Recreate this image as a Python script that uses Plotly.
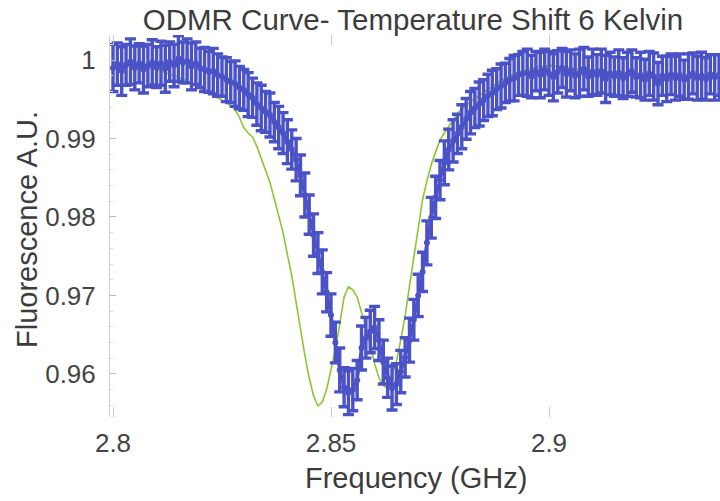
import plotly.graph_objects as go

# Microwave frequency scan (GHz), 1 MHz steps
freq_ghz = [
    2.800, 2.801, 2.802, 2.803, 2.804, 2.805, 2.806, 2.807, 2.808, 2.809,
    2.810, 2.811, 2.812, 2.813, 2.814, 2.815, 2.816, 2.817, 2.818, 2.819,
    2.820, 2.821, 2.822, 2.823, 2.824, 2.825, 2.826, 2.827, 2.828, 2.829,
    2.830, 2.831, 2.832, 2.833, 2.834, 2.835, 2.836, 2.837, 2.838, 2.839,
    2.840, 2.841, 2.842, 2.843, 2.844, 2.845, 2.846, 2.847, 2.848, 2.849,
    2.850, 2.851, 2.852, 2.853, 2.854, 2.855, 2.856, 2.857, 2.858, 2.859,
    2.860, 2.861, 2.862, 2.863, 2.864, 2.865, 2.866, 2.867, 2.868, 2.869,
    2.870, 2.871, 2.872, 2.873, 2.874, 2.875, 2.876, 2.877, 2.878, 2.879,
    2.880, 2.881, 2.882, 2.883, 2.884, 2.885, 2.886, 2.887, 2.888, 2.889,
    2.890, 2.891, 2.892, 2.893, 2.894, 2.895, 2.896, 2.897, 2.898, 2.899,
    2.900, 2.901, 2.902, 2.903, 2.904, 2.905, 2.906, 2.907, 2.908, 2.909,
    2.910, 2.911, 2.912, 2.913, 2.914, 2.915, 2.916, 2.917, 2.918, 2.919,
    2.920, 2.921, 2.922, 2.923, 2.924, 2.925, 2.926, 2.927, 2.928, 2.929,
    2.930, 2.931, 2.932, 2.933, 2.934, 2.935, 2.936, 2.937, 2.938, 2.939,
    2.940,
]

# Measured normalised fluorescence
fluorescence = [
    0.9990, 0.9995, 0.9986, 0.9994, 0.9998, 0.9990, 0.9996, 0.9988, 0.9993, 0.9997,
    0.9991, 0.9996, 0.9989, 0.9998, 0.9993, 1.0002, 0.9997, 0.9999, 0.9992, 0.9996,
    0.9990, 0.9988, 0.9985, 0.9986, 0.9981, 0.9979, 0.9975, 0.9972, 0.9970, 0.9965,
    0.9962, 0.9956, 0.9952, 0.9944, 0.9939, 0.9934, 0.9930, 0.9921, 0.9914, 0.9907,
    0.9896, 0.9886, 0.9873, 0.9853, 0.9828, 0.9803, 0.9777, 0.9754, 0.9730, 0.9704,
    0.9675, 0.9640, 0.9605, 0.9583, 0.9576, 0.9580, 0.9592, 0.9633, 0.9646, 0.9654,
    0.9659, 0.9643, 0.9615, 0.9595, 0.9582, 0.9587, 0.9603, 0.9621, 0.9643, 0.9669,
    0.9700, 0.9730, 0.9767, 0.9799, 0.9825, 0.9847, 0.9869, 0.9886, 0.9897, 0.9906,
    0.9915, 0.9925, 0.9933, 0.9939, 0.9944, 0.9949, 0.9955, 0.9958, 0.9963, 0.9967,
    0.9971, 0.9975, 0.9977, 0.9981, 0.9983, 0.9984, 0.9979, 0.9986, 0.9981, 0.9988,
    0.9983, 0.9978, 0.9985, 0.9990, 0.9982, 0.9987, 0.9980, 0.9984, 0.9989, 0.9979,
    0.9985, 0.9981, 0.9986, 0.9976, 0.9983, 0.9979, 0.9984, 0.9977, 0.9982, 0.9986,
    0.9978, 0.9981, 0.9975, 0.9983, 0.9979, 0.9970, 0.9980, 0.9976, 0.9982, 0.9977,
    0.9981, 0.9975, 0.9979, 0.9983, 0.9977, 0.9980, 0.9976, 0.9982, 0.9978, 0.9981,
    0.9979,
]

# One-sigma uncertainty of each measured point
fluorescence_err = [
    0.0030, 0.0027, 0.0031, 0.0026, 0.0029, 0.0028, 0.0025, 0.0030, 0.0027, 0.0029,
    0.0026, 0.0028, 0.0030, 0.0025, 0.0027, 0.0029, 0.0026, 0.0028, 0.0030, 0.0027,
    0.0025, 0.0028, 0.0026, 0.0029, 0.0027, 0.0025, 0.0028, 0.0026, 0.0029, 0.0027,
    0.0026, 0.0028, 0.0025, 0.0027, 0.0029, 0.0026, 0.0028, 0.0025, 0.0027, 0.0026,
    0.0028, 0.0025, 0.0027, 0.0026, 0.0028, 0.0025, 0.0027, 0.0026, 0.0028, 0.0025,
    0.0027, 0.0026, 0.0028, 0.0025, 0.0028, 0.0027, 0.0025, 0.0028, 0.0026, 0.0027,
    0.0027, 0.0026, 0.0028, 0.0025, 0.0028, 0.0026, 0.0027, 0.0025, 0.0028, 0.0026,
    0.0027, 0.0025, 0.0028, 0.0026, 0.0027, 0.0025, 0.0028, 0.0026, 0.0027, 0.0025,
    0.0028, 0.0026, 0.0027, 0.0025, 0.0028, 0.0026, 0.0027, 0.0029, 0.0026, 0.0028,
    0.0025, 0.0027, 0.0029, 0.0026, 0.0028, 0.0030, 0.0027, 0.0025, 0.0029, 0.0026,
    0.0028, 0.0030, 0.0027, 0.0025, 0.0029, 0.0026, 0.0028, 0.0030, 0.0027, 0.0025,
    0.0029, 0.0026, 0.0028, 0.0030, 0.0027, 0.0025, 0.0029, 0.0026, 0.0028, 0.0027,
    0.0025, 0.0029, 0.0026, 0.0028, 0.0030, 0.0027, 0.0025, 0.0029, 0.0026, 0.0028,
    0.0027, 0.0025, 0.0029, 0.0026, 0.0028, 0.0030, 0.0027, 0.0025, 0.0029, 0.0026,
    0.0028,
]

# Reference curve for the 6 K temperature shift
shifted_curve = [
    0.9997, 0.9996, 0.9996, 0.9995, 0.9995, 0.9994, 0.9993, 0.9992, 0.9990, 0.9989,
    0.9988, 0.9986, 0.9984, 0.9983, 0.9980, 0.9978, 0.9976, 0.9973, 0.9970, 0.9967,
    0.9965, 0.9962, 0.9958, 0.9955, 0.9952, 0.9949, 0.9946, 0.9942, 0.9937, 0.9927,
    0.9914, 0.9907, 0.9902, 0.9890, 0.9874, 0.9859, 0.9844, 0.9823, 0.9802, 0.9780,
    0.9752, 0.9725, 0.9691, 0.9655, 0.9624, 0.9595, 0.9572, 0.9559, 0.9564, 0.9580,
    0.9605, 0.9631, 0.9663, 0.9698, 0.9711, 0.9707, 0.9698, 0.9680, 0.9659, 0.9636,
    0.9613, 0.9595, 0.9585, 0.9582, 0.9598, 0.9616, 0.9643, 0.9674, 0.9712, 0.9749,
    0.9788, 0.9822, 0.9846, 0.9867, 0.9883, 0.9898, 0.9907, 0.9915, 0.9924, 0.9932,
    0.9938, 0.9943, 0.9947, 0.9951, 0.9955, 0.9959, 0.9963, 0.9966, 0.9970, 0.9974,
    0.9977, 0.9980, 0.9983, 0.9985, 0.9986, 0.9988, 0.9990, 0.9991, 0.9992, 0.9992,
    0.9993, 0.9993, 0.9992, 0.9992, 0.9991, 0.9990, 0.9989, 0.9989, 0.9988, 0.9988,
    0.9987, 0.9987, 0.9986, 0.9985, 0.9985, 0.9984, 0.9984, 0.9983, 0.9983, 0.9982,
    0.9982, 0.9982, 0.9981, 0.9981, 0.9981, 0.9980, 0.9980, 0.9980, 0.9980, 0.9979,
    0.9979, 0.9979, 0.9979, 0.9979, 0.9979, 0.9979, 0.9979, 0.9979, 0.9979, 0.9979,
    0.9979,
]

y_tick_vals = [0.96, 0.97, 0.98, 0.99, 1.00]
y_tick_text = ["0.96", "0.97", "0.98", "0.99", "1"]
x_tick_vals = [2.80, 2.85, 2.90]
x_tick_text = ["2.8", "2.85", "2.9"]

BLUE = "rgb(74,82,198)"
GREEN = "rgb(140,198,50)"
TEXT = "#3c3c3c"
FONT = "Liberation Sans, Arial, sans-serif"

fig = go.Figure()

fig.add_trace(go.Scatter(
    x=freq_ghz, y=shifted_curve, mode="lines",
    line=dict(color=GREEN, width=1.6),
    hoverinfo="skip", showlegend=False,
))

fig.add_trace(go.Scatter(
    x=freq_ghz, y=fluorescence, mode="lines+markers",
    line=dict(color=BLUE, width=3.2),
    marker=dict(color=BLUE, size=6),
    error_y=dict(type="data", array=fluorescence_err, visible=True,
                 color=BLUE, thickness=3.4, width=5.5),
    showlegend=False,
))

fig.update_layout(
    width=720, height=501,
    margin=dict(l=110, r=0, t=35, b=84),
    paper_bgcolor="white", plot_bgcolor="white",
    font=dict(family=FONT, color=TEXT),
    title=dict(text="ODMR Curve- Temperature Shift 6 Kelvin",
               xref="container", x=413 / 720, xanchor="center",
               yref="container", y=1 - 20 / 501, yanchor="middle",
               font=dict(size=29.5, color=TEXT, family=FONT)),
    annotations=[
        dict(text="Frequency (GHz)", xref="paper", yref="paper",
             x=(416 - 110) / 610, y=(417 - 478) / 382,
             xanchor="center", yanchor="middle", showarrow=False,
             font=dict(size=29, color=TEXT, family=FONT)),
        dict(text="Fluorescence A.U.", xref="paper", yref="paper",
             x=(27 - 110) / 610, y=(417 - 230) / 382, textangle=-90,
             xanchor="center", yanchor="middle", showarrow=False,
             font=dict(size=29, color=TEXT, family=FONT)),
    ],
)

fig.update_xaxes(
    range=[2.8 - 3 / 4360, 2.8 + 607 / 4360],
    tickvals=x_tick_vals, ticktext=x_tick_text,
    ticks="inside", ticklen=10, tickcolor="#c8c8c8", tickwidth=1,
    mirror="ticks", showline=False, showgrid=False, zeroline=False,
    tickfont=dict(size=26, color="#444", family=FONT),
    ticklabelstandoff=8,
)
fig.update_yaxes(
    range=[0.9545, 1.0032],
    tickvals=y_tick_vals, ticktext=y_tick_text,
    ticks="inside", ticklen=6, tickcolor="#bdbdbd", tickwidth=1,
    showline=True, linecolor="#cfcfcf", linewidth=1,
    showgrid=False, zeroline=False,
    tickfont=dict(size=26, color="#444", family=FONT),
    ticklabelstandoff=8,
    minor=dict(ticks="inside", ticklen=3, tickcolor="#dddddd", dtick=0.002),
)

fig.write_html("out.html")
